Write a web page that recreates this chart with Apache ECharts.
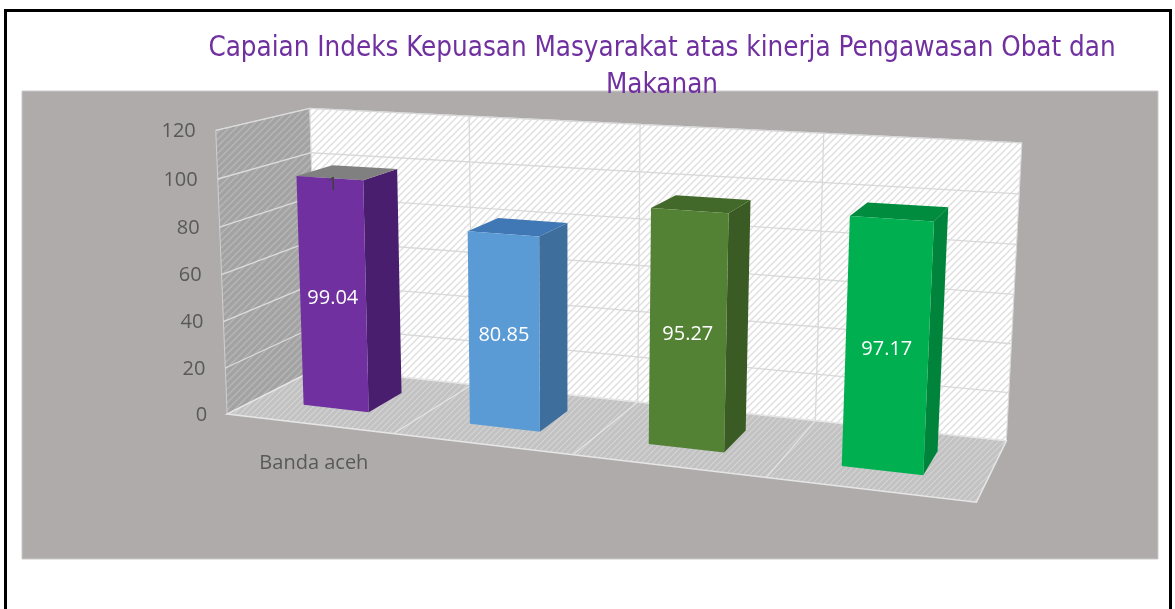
<!DOCTYPE html>
<html><head><meta charset="utf-8">
<script src="https://cdn.jsdelivr.net/npm/echarts@6/dist/echarts.min.js"></script>
<style>html,body{margin:0;padding:0;background:#fff}#c{width:1175px;height:609px}</style>
</head><body><div id="c"></div>
<script>
// ---------------- data ----------------
const titleText = 'Capaian Indeks Kepuasan Masyarakat atas kinerja Pengawasan Obat dan\nMakanan';
const categories = ['Banda aceh', '', '', ''];
const values = [99.04, 80.85, 95.27, 97.17];
const yTicks = [0, 20, 40, 60, 80, 100, 120];
const topNotes = ['1', '', '', ''];

// ---------------- styles ----------------
const frontColors = ['#7030A0', '#5B9BD5', '#548235', '#00B050'];
const sideColors  = ['#4A1E6E', '#3E6E9C', '#3A5B24', '#00843B'];
const topColors   = ['#808080', '#3F78B4', '#43692A', '#008C3F'];
const FONT = '"Open Sans", "Noto Sans", sans-serif';
const TITLE_FONT = '"Liberation Sans Narrow", "DejaVu Sans Condensed", "DejaVu Sans", sans-serif';
const TITLE_LINE1_WIDTH = 906;
const GRID = {left: 0, top: 0, width: 400, height: 120};
const Y_MAX = 120;
const BAR_HALF = 0.2, Z_BACK = 0.3, Z_FRONT = 0.7;

// scene anchors: world (slot, value, depth) -> screen, used to fit the perspective camera
const ANCHORS = [
  [0,0,0, 313,372],[4,0,0, 1003,436],[0,120,0, 313,108],[4,120,0, 1023,143],
  [0,0,1, 231,410],[4,0,1, 977,507],[0,120,1, 212,132],
  [1,120,0, 470,115],[2,120,0, 639,124],[3,120,0, 822,134],
  [1,0,0, 470,387],[2,0,0, 638,403],[3,0,0, 821,419],
  [1,0,1, 395,431],[2,0,1, 572,454],[3,0,1, 766,479],
  [0,100,0, 313,152],[0,100,1, 217,179]
];

function solveCamera(anchors){
  const nrm = a => [(a[0]-2)/2, (a[1]-60)/60, (a[2]-0.5)*2, (a[3]-620)/400, (a[4]-300)/400];
  const rows = [], rhs = [];
  anchors.forEach(a => {
    const [X,Y,Z,u,v] = nrm(a);
    rows.push([X,Y,Z,1,0,0,0,0,-u*X,-u*Y,-u*Z]); rhs.push(u);
    rows.push([0,0,0,0,X,Y,Z,1,-v*X,-v*Y,-v*Z]); rhs.push(v);
  });
  const n = 11;
  const M = [...Array(n)].map(() => new Array(n+1).fill(0));
  rows.forEach((r,k) => { for (let i=0;i<n;i++){ for (let j=0;j<n;j++) M[i][j]+=r[i]*r[j]; M[i][n]+=r[i]*rhs[k]; } });
  for (let c=0;c<n;c++){
    let p=c; for (let r=c+1;r<n;r++) if (Math.abs(M[r][c])>Math.abs(M[p][c])) p=r;
    const t=M[c]; M[c]=M[p]; M[p]=t;
    for (let r=0;r<n;r++){ if(r===c) continue; const f=M[r][c]/M[c][c]; for (let j=c;j<=n;j++) M[r][j]-=f*M[c][j]; }
  }
  const p = M.map((r,i) => r[n]/r[i]);
  return function(X,Y,Z){
    const x=(X-2)/2, y=(Y-60)/60, z=(Z-0.5)*2;
    const w=p[8]*x+p[9]*y+p[10]*z+1;
    return [(p[0]*x+p[1]*y+p[2]*z+p[3])/w*400+620, (p[4]*x+p[5]*y+p[6]*z+p[7])/w*400+300];
  };
}
const project = solveCamera(ANCHORS);

function hatch(bg, line, size, lw){
  const c = document.createElement('canvas'); c.width = c.height = size;
  const g = c.getContext('2d');
  g.fillStyle = bg; g.fillRect(0,0,size,size);
  g.strokeStyle = line; g.lineWidth = lw; g.beginPath();
  g.moveTo(-1,size+1); g.lineTo(size+1,-1);
  g.moveTo(-size/2-1,size/2+1); g.lineTo(size/2+1,-size/2-1);
  g.moveTo(size/2-1,size*1.5+1); g.lineTo(size*1.5+1,size/2-1);
  g.stroke();
  return {image: c, repeat: 'repeat'};
}
const backFill = hatch('#FFFFFF', '#DEDEDE', 7, 1.4);
const sideFill = hatch('#A3A3A3', '#B6B6B6', 7, 1.4);
const floorFill = hatch('#C2C2C2', '#D4D4D4', 6, 1.2);

// title size chosen so the first line spans the same width as the original
const mctx = document.createElement('canvas').getContext('2d');
mctx.font = '100px ' + TITLE_FONT;
const titleSize = Math.round(TITLE_LINE1_WIDTH / mctx.measureText(titleText.split('\n')[0]).width * 1000) / 10;

function poly(pts, style){ return {type:'polygon', shape:{points: pts.map(p => project(p[0],p[1],p[2]))}, style}; }
function line(pts, stroke, lw){ return {type:'polyline', shape:{points: pts.map(p => project(p[0],p[1],p[2]))}, style:{stroke, lineWidth: lw, fill: null}}; }

// world helpers via the (hidden) cartesian scales
function worldX(api, i){ return (api.coord([i, 0])[0] - GRID.left) / api.size([1,0])[0]; }
function worldY(api, v){ return (api.coord([0, 0])[1] - api.coord([0, v])[1]) / GRID.height * Y_MAX; }

const NC = categories.length;

const chart = echarts.init(document.getElementById('c'), null, {renderer: 'canvas'});
chart.setOption({
  animation: false,
  title: {
    text: titleText, left: 662, textAlign: 'center', top: 30, padding: 0,
    textStyle: {color: '#7030A0', fontSize: titleSize, fontWeight: 'normal', lineHeight: 37, fontFamily: TITLE_FONT}
  },
  graphic: [
    {type:'rect', z: -10, silent: true, shape:{x:5.5, y:10.5, width:1165, height:700}, style:{fill:'#FFFFFF', stroke:'#000000', lineWidth:3}},
    {type:'rect', z: -9, silent: true, shape:{x:22, y:91, width:1136, height:468}, style:{fill:'#AFABAB', stroke:'#C9C9C9', lineWidth:1}}
  ],
  grid: Object.assign({show: false}, GRID),
  xAxis: {type: 'category', data: categories, show: false},
  yAxis: {type: 'value', min: 0, max: Y_MAX, interval: 20, show: false},
  series: [
    { // walls + floor
      type: 'custom', name: 'walls', z: 1, silent: true,
      data: [[0, 0]],
      renderItem: function(params, api){
        const x0 = worldX(api, 0) - 0.5, x1 = worldX(api, NC-1) + 0.5, yT = worldY(api, Y_MAX);
        return {type: 'group', children: [
          poly([[x0,0,0],[x0,0,1],[x0,yT,1],[x0,yT,0]], {fill: sideFill, stroke: '#D0D0D0', lineWidth: 1}),
          poly([[x0,0,0],[x1,0,0],[x1,yT,0],[x0,yT,0]], {fill: backFill, stroke: '#D9D9D9', lineWidth: 1}),
          poly([[x0,0,0],[x1,0,0],[x1,0,1],[x0,0,1]], {fill: floorFill, stroke: '#E6E6E6', lineWidth: 1.5})
        ]};
      }
    },
    { // value gridlines + value labels
      type: 'custom', name: 'valueGrid', z: 2, silent: true,
      data: yTicks.map(t => [0, t]),
      renderItem: function(params, api){
        const t = api.value(1), y = worldY(api, t);
        const x0 = worldX(api, 0) - 0.5, x1 = worldX(api, NC-1) + 0.5;
        const lp = project(x0, y, 1);
        const kids = [
          {type:'text', x: lp[0]-20, y: lp[1]+1, style:{text: String(t), fill:'#595959', fontSize: 20, fontFamily: FONT, align:'right', verticalAlign:'middle'}}
        ];
        if (t > 0) {
          kids.unshift(line([[x0,y,1],[x0,y,0]], '#DCDCDC', 1.3));
          kids.unshift(line([[x0,y,0],[x1,y,0]], '#D9D9D9', 1.3));
        }
        return {type:'group', children: kids};
      }
    },
    { // category dividers + category labels
      type: 'custom', name: 'categoryGrid', z: 2, silent: true,
      data: categories.map((c, i) => [i, 0]),
      renderItem: function(params, api){
        const i = params.dataIndex, xc = worldX(api, i), yT = worldY(api, Y_MAX);
        const kids = [];
        if (i > 0) {
          const xd = xc - 0.5;
          kids.push(line([[xd,0,0],[xd,yT,0]], '#D9D9D9', 1.3));
          kids.push(line([[xd,0,0],[xd,0,1]], '#E4E4E4', 1.3));
        }
        const lp = project(xc, 0, 1);
        kids.push({type:'text', x: lp[0]+5, y: lp[1]+40, style:{text: categories[i], fill:'#595959', fontSize: 20, fontFamily: FONT, align:'center', verticalAlign:'middle'}});
        return {type:'group', children: kids};
      }
    },
    { // 3D bars
      type: 'custom', name: 'Capaian', z: 3,
      data: values.map((v, i) => [i, v]),
      renderItem: function(params, api){
        const i = params.dataIndex, v = api.value(1);
        const xc = worldX(api, i), y = worldY(api, v);
        const X0 = xc - BAR_HALF, X1 = xc + BAR_HALF;
        const lab = project(xc, y/2, Z_FRONT);
        const kids = [
          poly([[X1,0,Z_FRONT],[X1,0,Z_BACK],[X1,y,Z_BACK],[X1,y,Z_FRONT]], {fill: sideColors[i]}),
          poly([[X0,y,Z_FRONT],[X1,y,Z_FRONT],[X1,y,Z_BACK],[X0,y,Z_BACK]], {fill: topColors[i]}),
          poly([[X0,0,Z_FRONT],[X1,0,Z_FRONT],[X1,y,Z_FRONT],[X0,y,Z_FRONT]], {fill: frontColors[i]}),
          {type:'text', x: lab[0], y: lab[1]+3, style:{text: String(v), fill:'#FFFFFF', fontSize: 20, fontFamily: FONT, align:'center', verticalAlign:'middle'}}
        ];
        if (topNotes[i]) {
          const tp = project(xc, y, Z_FRONT);
          kids.push({type:'text', x: tp[0]+3, y: tp[1]+7, style:{text: topNotes[i], fill:'#404040', fontSize: 19, fontFamily: FONT, align:'center', verticalAlign:'middle'}});
        }
        return {type:'group', children: kids};
      }
    }
  ]
});
</script>
</body></html>
